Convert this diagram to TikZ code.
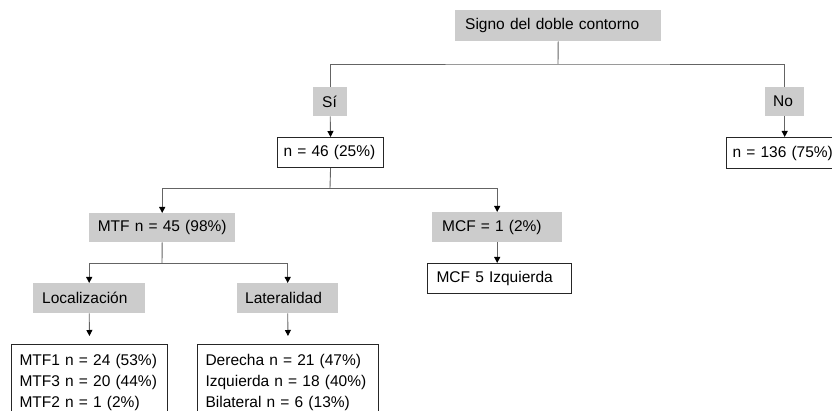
\documentclass[tikz,border=0pt]{standalone}
\usepackage{fontspec}
\setmainfont{Liberation Sans}
\usetikzlibrary{arrows.meta}
\definecolor{boxgray}{RGB}{204,204,204}
\definecolor{linegray}{RGB}{100,100,100}
\tikzset{
  gbox/.style={fill=boxgray, anchor=north west, inner xsep=10pt, inner ysep=0pt, align=left,
    font=\fontsize{15.5}{21}\selectfont},
  wbox/.style={draw=black!85, line width=1.1pt, fill=white, anchor=north west, inner xsep=9pt,
    inner ysep=0pt, align=left, font=\fontsize{15.5}{21}\selectfont},
  link/.style={draw=linegray, line width=0.9pt},
  arr/.style={link, -{Triangle[length=6pt, width=6pt, color=black]}}
}
\begin{document}
\begin{tikzpicture}[x=1pt, y=-1pt]
  \useasboundingbox (0,0) rectangle (832,411);
  % levels
  \node[gbox, text width=186pt, minimum height=31pt] (signo) at (455,10) {Signo del doble contorno};
  \node[gbox, inner xsep=9pt, text width=16pt, minimum height=29pt] (si) at (313,87) {Sí};
  \node[gbox, inner xsep=8pt, text width=23pt, minimum height=29pt] (no) at (765,87) {No};
  \node[wbox, inner xsep=6pt, text width=94pt, minimum height=30pt] (n46) at (277,137) {n = 46 (25\%)};
  \node[wbox, inner xsep=6pt, text width=124pt, minimum height=31pt] (n136) at (726,137) {n = 136 (75\%)};
  \node[gbox, inner xsep=3pt, align=center, text width=140pt, minimum height=29pt] (mtf) at (89,213) {MTF n = 45 (98\%)};
  \node[gbox, text width=110pt, minimum height=30pt] (mcf) at (432,212) {MCF = 1 (2\%)};
  \node[wbox, text width=126pt, minimum height=30pt] (mcf5) at (427,263) {MCF 5 Izquierda};
  \node[gbox, inner xsep=9pt, text width=94pt, minimum height=30pt] (loc) at (33,283) {Localización};
  \node[gbox, inner xsep=8pt, text width=85pt, minimum height=30pt] (lat) at (237,283) {Lateralidad};
  \node[wbox, inner xsep=8pt, inner ysep=10pt, text width=140pt] (mtfres) at (11,344)
    {MTF1 n = 24 (53\%)\\MTF3 n = 20 (44\%)\\MTF2 n = 1 (2\%)};
  \node[wbox, inner xsep=8pt, inner ysep=10pt, text width=165pt] (latres) at (197,344)
    {Derecha n = 21 (47\%)\\Izquierda n = 18 (40\%)\\Bilateral n = 6 (13\%)};

  \coordinate (split1) at (558,64);
  \coordinate (split2) at (330,188);
  \coordinate (split3) at (162,263);

  \draw[link] (signo.south) -- (split1);
  \draw[link] (si.north) |- (split1) -| (no.north);
  \draw[arr] (si.south) -- (n46.north);
  \draw[arr] (no.south) -- (no.south |- n136.north);
  \draw[link] (n46.south) -- (split2);
  \draw[arr] (split2) -| (mtf.north);
  \draw[arr] (split2) -| (mcf.north);
  \draw[arr] (mcf.south) -- (mcf.south |- mcf5.north);
  \draw[link] (mtf.south) -- (split3);
  \draw[arr] (split3) -| (loc.north);
  \draw[arr] (split3) -| (lat.north);
  \draw[arr, shorten >=8pt] (loc.south) -- (mtfres.north);
  \draw[arr, shorten >=8pt] (lat.south) -- (latres.north);
\end{tikzpicture}
\end{document}
